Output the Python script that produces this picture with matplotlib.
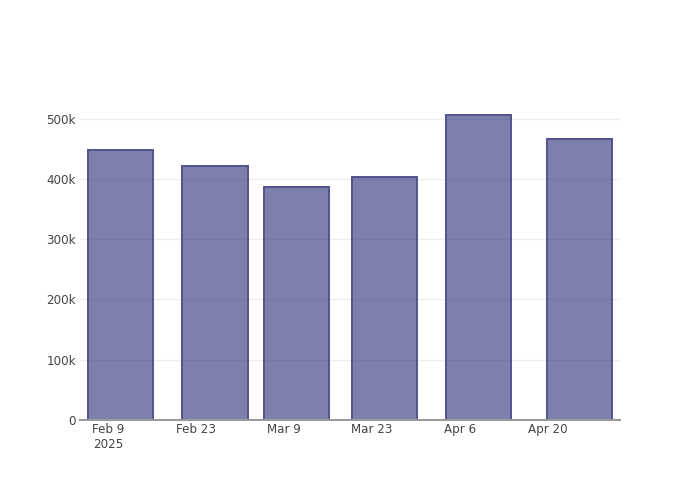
import datetime as dt
import matplotlib
matplotlib.use("Agg")
import matplotlib.pyplot as plt
import matplotlib.dates as mdates

# bar dates and values
dates = [dt.datetime(2025, 2, 11), dt.datetime(2025, 2, 26), dt.datetime(2025, 3, 11),
         dt.datetime(2025, 3, 25), dt.datetime(2025, 4, 9), dt.datetime(2025, 4, 25)]
values = [448000, 422000, 387000, 403000, 506000, 466000]

tick_dates = [dt.datetime(2025, 2, 9), dt.datetime(2025, 2, 23), dt.datetime(2025, 3, 9),
              dt.datetime(2025, 3, 23), dt.datetime(2025, 4, 6), dt.datetime(2025, 4, 20)]
tick_labels = ["Feb 9\n2025", "Feb 23", "Mar 9", "Mar 23", "Apr 6", "Apr 20"]
y_ticks = [0, 100000, 200000, 300000, 400000, 500000]
y_labels = ["0", "100k", "200k", "300k", "400k", "500k"]

plt.rcParams['font.family'] = ['DejaVu Sans']

fig = plt.figure(figsize=(7, 5), dpi=100)
ax = fig.add_axes([80 / 700, 80 / 500, 540 / 700, 320 / 500])

# plotly-style width: 80% of the smallest gap (13 days), translucent fill
ax.bar(dates, values, width=10.4, color=(42 / 255, 42 / 255, 120 / 255, 0.6),
       edgecolor="#52528e", linewidth=1.4, zorder=3)

x0 = mdates.date2num(dt.datetime(2025, 2, 9))
ax.set_xlim(x0 - 4.48, x0 + 81.5)
ax.set_ylim(0, 531000)

ax.set_xticks(tick_dates)
ax.set_xticklabels(tick_labels, ha="center", va="top", multialignment="center")
ax.set_yticks(y_ticks)
ax.set_yticklabels(y_labels)
ax.tick_params(axis="both", colors="#444444", labelsize=8.6, length=0)
ax.tick_params(axis="x", pad=2)
ax.tick_params(axis="y", pad=3)

ax.grid(axis="y", color="#eeeeee", linewidth=1, zorder=0)
for side in ["top", "right", "left"]:
    ax.spines[side].set_visible(False)
ax.spines["bottom"].set_color("#9a9a9a")
ax.spines["bottom"].set_linewidth(1.5)
ax.spines["bottom"].set_zorder(4)

fig.savefig("out.png", dpi=100)
